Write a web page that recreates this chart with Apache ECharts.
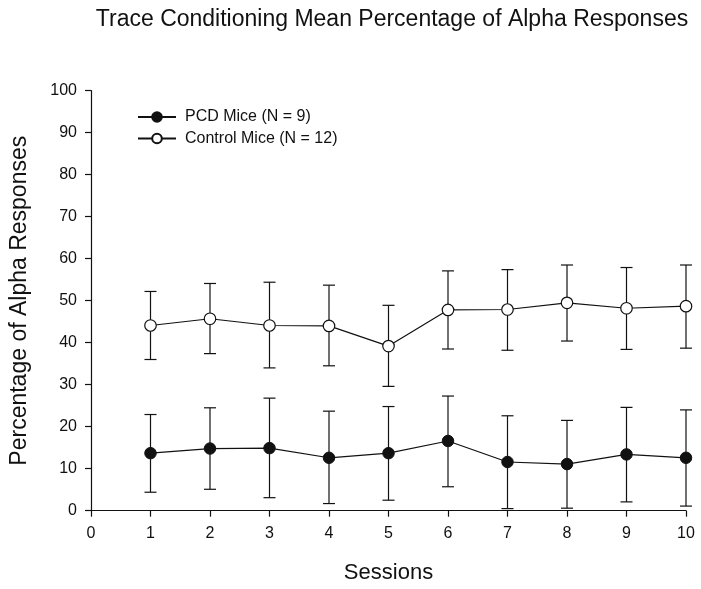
<!DOCTYPE html>
<html>
<head>
<meta charset="utf-8">
<script src="https://cdn.jsdelivr.net/npm/echarts@6/dist/echarts.min.js"></script>
<style>
html,body{margin:0;padding:0;background:#fff;}
#chart{width:701px;height:589px;}
</style>
</head>
<body>
<div id="chart"></div>
<script>
var sessions = [1, 2, 3, 4, 5, 6, 7, 8, 9, 10];
var pcdMean  = [13.7, 14.8, 14.9, 12.6, 13.7, 16.6, 11.6, 11.1, 13.4, 12.6];
var pcdUpper = [22.9, 24.5, 26.8, 23.7, 24.8, 27.3, 22.6, 21.5, 24.6, 24.0];
var pcdLower = [4.4, 5.1, 3.1, 1.7, 2.5, 5.7, 0.5, 0.6, 2.1, 1.1];
var ctlMean  = [44.1, 45.7, 44.1, 44.0, 39.2, 47.8, 47.9, 49.5, 48.2, 48.7];
var ctlUpper = [52.2, 54.1, 54.4, 53.7, 48.9, 57.1, 57.4, 58.5, 57.9, 58.5];
var ctlLower = [36.0, 37.4, 34.0, 34.5, 29.6, 38.5, 38.2, 40.4, 38.4, 38.7];
var seriesNames = ['PCD Mice (N = 9)', 'Control Mice (N = 12)'];
var titleText = 'Trace Conditioning Mean Percentage of Alpha Responses';
var xName = 'Sessions';
var yName = 'Percentage of Alpha Responses';

var FONT = '"Liberation Sans", Arial, sans-serif';
var INK = '#111';

function pairs(ys) { return sessions.map(function (s, i) { return [s, ys[i]]; }); }
function bars(lo, hi) { return sessions.map(function (s, i) { return [s, lo[i], hi[i]]; }); }

function errRender(params, api) {
  var x = api.value(0);
  var lo = api.coord([x, api.value(1)]);
  var hi = api.coord([x, api.value(2)]);
  var cap = 6;
  var st = { stroke: INK, lineWidth: 1.2 };
  return {
    type: 'group',
    children: [
      { type: 'line', shape: { x1: hi[0], y1: hi[1], x2: lo[0], y2: lo[1] }, style: st },
      { type: 'line', shape: { x1: hi[0] - cap, y1: hi[1], x2: hi[0] + cap, y2: hi[1] }, style: st },
      { type: 'line', shape: { x1: lo[0] - cap, y1: lo[1], x2: lo[0] + cap, y2: lo[1] }, style: st }
    ]
  };
}

var chart = echarts.init(document.getElementById('chart'), null, { renderer: 'canvas' });
chart.setOption({
  animation: false,
  backgroundColor: '#fff',
  textStyle: { fontFamily: FONT },
  title: {
    text: titleText,
    left: 387, top: 3, textAlign: 'center',
    textStyle: { fontFamily: FONT, fontSize: 23, fontWeight: 'normal', color: INK }
  },
  legend: {
    data: seriesNames,
    orient: 'vertical',
    left: 137, top: 109, padding: 0,
    itemWidth: 38, itemHeight: 12, itemGap: 5.5,
    textStyle: { fontFamily: FONT, fontSize: 16, color: INK, padding: [0, 0, 0, 4] }
  },
  grid: { left: 88, right: 15, top: 90.7, bottom: 78.3, containLabel: false },
  xAxis: {
    type: 'value', min: 0, max: 10, interval: 1,
    name: xName, nameLocation: 'middle', nameGap: 51,
    nameTextStyle: { fontFamily: FONT, fontSize: 22, color: INK },
    axisLine: { lineStyle: { color: INK, width: 1.2 } },
    axisTick: { show: true, inside: false, length: 6, lineStyle: { color: INK, width: 1.2 } },
    axisLabel: { fontFamily: FONT, fontSize: 16, color: INK, margin: 15 },
    splitLine: { show: false }
  },
  yAxis: {
    type: 'value', min: 0, max: 100, interval: 10,
    name: yName, nameLocation: 'middle', nameGap: 60, nameRotate: 90,
    nameTextStyle: { fontFamily: FONT, fontSize: 23, color: INK },
    axisLine: { show: true, lineStyle: { color: INK, width: 1.2 } },
    axisTick: { show: true, inside: false, length: 6, lineStyle: { color: INK, width: 1.2 } },
    axisLabel: { fontFamily: FONT, fontSize: 16, color: INK, margin: 14 },
    splitLine: { show: false }
  },
  series: [
    {
      type: 'custom', name: 'pcdErr', renderItem: errRender, data: bars(pcdLower, pcdUpper),
      z: 1, silent: true, encode: { x: 0, y: [1, 2] }
    },
    {
      type: 'custom', name: 'ctlErr', renderItem: errRender, data: bars(ctlLower, ctlUpper),
      z: 1, silent: true, encode: { x: 0, y: [1, 2] }
    },
    {
      type: 'line', name: seriesNames[0], data: pairs(pcdMean), z: 3,
      symbol: 'circle', symbolSize: 11.5,
      lineStyle: { color: INK, width: 1.2 },
      itemStyle: { color: INK, borderColor: INK, borderWidth: 1 }
    },
    {
      type: 'line', name: seriesNames[1], data: pairs(ctlMean), z: 3,
      symbol: 'circle', symbolSize: 11.5,
      lineStyle: { color: INK, width: 1.2 },
      itemStyle: { color: '#fff', borderColor: INK, borderWidth: 1.2 }
    }
  ]
});
</script>
</body>
</html>
